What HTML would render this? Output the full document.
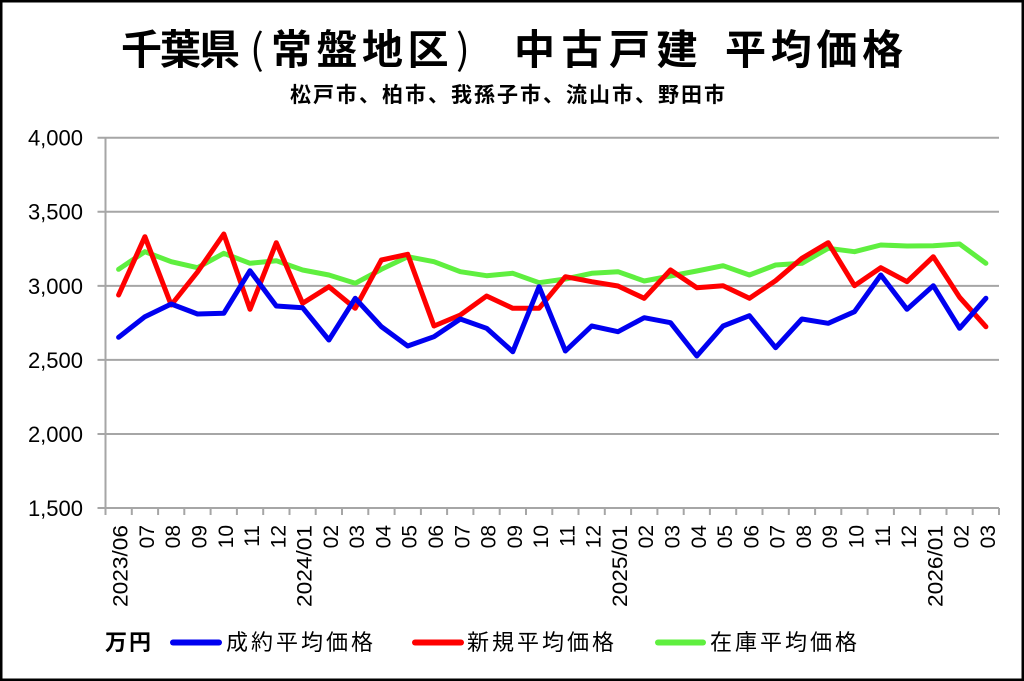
<!DOCTYPE html>
<html><head><meta charset="utf-8"><style>
html,body{margin:0;padding:0;background:#fff;}
svg{display:block;}
.t{font-family:"Liberation Sans","Noto Sans CJK JP",sans-serif;font-weight:700;font-size:41px;fill:#000;}
.p{font-family:"Noto Sans CJK JP",sans-serif;font-weight:400;font-size:41px;fill:#000;}
.s{font-family:"Liberation Sans","Noto Sans CJK JP",sans-serif;font-weight:700;font-size:21px;letter-spacing:2px;fill:#000;}
.y{font-family:"Liberation Sans",sans-serif;font-size:22px;fill:#000;}
.x{font-family:"Liberation Sans",sans-serif;font-size:21px;fill:#000;}
.l{font-family:"Liberation Sans","Noto Sans CJK JP",sans-serif;font-size:22px;letter-spacing:3px;fill:#000;}
</style></head><body>
<svg width="1024" height="681" viewBox="0 0 1024 681" xmlns="http://www.w3.org/2000/svg">
<rect x="0" y="0" width="1024" height="681" fill="#fff"/>
<rect x="1.25" y="1.25" width="1021.5" height="678.5" fill="none" stroke="#000" stroke-width="2.5"/>

<!-- title -->
<text class="t" x="121" y="64" style="letter-spacing:-2px">千葉県</text>
<text class="p" x="250" y="64">(</text>
<text class="t" x="271" y="64" style="letter-spacing:4.5px">常盤地区</text>
<text class="p" x="456" y="64">)</text>
<text class="t" x="514" y="64" style="letter-spacing:6.5px">中古戸建</text>
<text class="t" x="725" y="64" style="letter-spacing:4.7px">平均価格</text>
<text class="s" x="290" y="102">松戸市、柏市、我孫子市、流山市、野田市</text>

<!-- gridlines -->
<g stroke="#a6a6a6" stroke-width="2" fill="none">
<path d="M97.5 137.7H999M97.5 211.8H999M97.5 285.9H999M97.5 359.9H999M97.5 434H999M97.5 508H999"/>
<path d="M105.5 137V515"/>
<path d="M131.8 508v7M158.1 508v7M184.3 508v7M210.6 508v7M236.9 508v7M263.2 508v7M289.5 508v7M315.7 508v7M342 508v7M368.3 508v7M394.6 508v7M420.9 508v7M447.1 508v7M473.4 508v7M499.7 508v7M526 508v7M552.3 508v7M578.5 508v7M604.8 508v7M631.1 508v7M657.4 508v7M683.7 508v7M709.9 508v7M736.2 508v7M762.5 508v7M788.8 508v7M815.1 508v7M841.3 508v7M867.6 508v7M893.9 508v7M920.2 508v7M946.5 508v7M972.7 508v7M999 508v7"/>
</g>

<!-- y labels -->
<g class="y" text-anchor="end">
<text x="83" y="145.6">4,000</text>
<text x="83" y="219.7">3,500</text>
<text x="83" y="293.8">3,000</text>
<text x="83" y="367.8">2,500</text>
<text x="83" y="441.9">2,000</text>
<text x="83" y="515.9">1,500</text>
</g>

<!-- x labels -->
<g class="x" text-anchor="end">
<text transform="translate(120.1,525) rotate(-90)" x="0" y="7.5" textLength="82" lengthAdjust="spacingAndGlyphs">2023/06</text>
<text transform="translate(146.4,525) rotate(-90)" x="0" y="7.5">07</text>
<text transform="translate(172.7,525) rotate(-90)" x="0" y="7.5">08</text>
<text transform="translate(199,525) rotate(-90)" x="0" y="7.5">09</text>
<text transform="translate(225.3,525) rotate(-90)" x="0" y="7.5">10</text>
<text transform="translate(251.5,525) rotate(-90)" x="0" y="7.5">11</text>
<text transform="translate(277.8,525) rotate(-90)" x="0" y="7.5">12</text>
<text transform="translate(304.1,525) rotate(-90)" x="0" y="7.5" textLength="82" lengthAdjust="spacingAndGlyphs">2024/01</text>
<text transform="translate(330.4,525) rotate(-90)" x="0" y="7.5">02</text>
<text transform="translate(356.7,525) rotate(-90)" x="0" y="7.5">03</text>
<text transform="translate(382.9,525) rotate(-90)" x="0" y="7.5">04</text>
<text transform="translate(409.2,525) rotate(-90)" x="0" y="7.5">05</text>
<text transform="translate(435.5,525) rotate(-90)" x="0" y="7.5">06</text>
<text transform="translate(461.8,525) rotate(-90)" x="0" y="7.5">07</text>
<text transform="translate(488.1,525) rotate(-90)" x="0" y="7.5">08</text>
<text transform="translate(514.3,525) rotate(-90)" x="0" y="7.5">09</text>
<text transform="translate(540.6,525) rotate(-90)" x="0" y="7.5">10</text>
<text transform="translate(566.9,525) rotate(-90)" x="0" y="7.5">11</text>
<text transform="translate(593.2,525) rotate(-90)" x="0" y="7.5">12</text>
<text transform="translate(619.5,525) rotate(-90)" x="0" y="7.5" textLength="82" lengthAdjust="spacingAndGlyphs">2025/01</text>
<text transform="translate(645.7,525) rotate(-90)" x="0" y="7.5">02</text>
<text transform="translate(672,525) rotate(-90)" x="0" y="7.5">03</text>
<text transform="translate(698.3,525) rotate(-90)" x="0" y="7.5">04</text>
<text transform="translate(724.6,525) rotate(-90)" x="0" y="7.5">05</text>
<text transform="translate(750.9,525) rotate(-90)" x="0" y="7.5">06</text>
<text transform="translate(777.1,525) rotate(-90)" x="0" y="7.5">07</text>
<text transform="translate(803.4,525) rotate(-90)" x="0" y="7.5">08</text>
<text transform="translate(829.7,525) rotate(-90)" x="0" y="7.5">09</text>
<text transform="translate(856,525) rotate(-90)" x="0" y="7.5">10</text>
<text transform="translate(882.3,525) rotate(-90)" x="0" y="7.5">11</text>
<text transform="translate(908.5,525) rotate(-90)" x="0" y="7.5">12</text>
<text transform="translate(934.8,525) rotate(-90)" x="0" y="7.5" textLength="82" lengthAdjust="spacingAndGlyphs">2026/01</text>
<text transform="translate(961.1,525) rotate(-90)" x="0" y="7.5">02</text>
<text transform="translate(987.4,525) rotate(-90)" x="0" y="7.5">03</text>
</g>

<!-- series -->
<g fill="none" stroke-width="5" stroke-linejoin="round" stroke-linecap="round">
<polyline stroke="#5fef3f" points="118.6,269.3 144.9,251.7 171.2,261.7 197.5,267.7 223.8,253.3 250,263.3 276.3,260.7 302.6,270 328.9,275 355.2,283.3 381.4,269.3 407.7,256.7 434,261.7 460.3,271.7 486.6,275.7 512.8,273.3 539.1,282.7 565.4,279 591.7,273.3 618,271.7 644.2,281 670.5,276 696.8,271 723.1,265.7 749.4,275 775.6,265 801.9,263.3 828.2,248.3 854.5,251.7 880.8,245 907,246 933.3,245.7 959.6,244 985.9,263.3"/>
<polyline stroke="#ff0000" points="118.6,295 144.9,236.7 171.2,305 197.5,272 223.8,234 250,309.3 276.3,242.7 302.6,303.3 328.9,286.7 355.2,308.3 381.4,260 407.7,254.3 434,326 460.3,315 486.6,296 512.8,308.3 539.1,308.3 565.4,276.7 591.7,281.7 618,286 644.2,298.3 670.5,270 696.8,287.7 723.1,285.7 749.4,298.3 775.6,280.7 801.9,258.3 828.2,242.7 854.5,285.7 880.8,267.7 907,281.7 933.3,256.7 959.6,297.3 985.9,326.7"/>
<polyline stroke="#0000f0" points="118.6,337.3 144.9,316.7 171.2,304 197.5,314 223.8,313.3 250,270.7 276.3,306 302.6,307.7 328.9,340 355.2,298.3 381.4,326.7 407.7,346 434,336.7 460.3,319 486.6,328.3 512.8,351.7 539.1,286.7 565.4,351 591.7,326 618,331.7 644.2,317.7 670.5,322.7 696.8,356 723.1,326 749.4,315.7 775.6,347.7 801.9,319 828.2,323.3 854.5,311.7 880.8,275 907,309.3 933.3,285.7 959.6,328.3 985.9,298.3"/>
</g>

<!-- legend -->
<text class="l" x="105" y="650" style="font-weight:700;letter-spacing:2px">万円</text>
<g stroke-width="6" stroke-linecap="round">
<line x1="173" y1="642.5" x2="219" y2="642.5" stroke="#0000f0"/>
<line x1="415" y1="642.5" x2="461" y2="642.5" stroke="#ff0000"/>
<line x1="658" y1="642.5" x2="703" y2="642.5" stroke="#5fef3f"/>
</g>
<text class="l" x="226" y="650">成約平均価格</text>
<text class="l" x="467" y="650">新規平均価格</text>
<text class="l" x="710" y="650">在庫平均価格</text>
</svg>
</body></html>
